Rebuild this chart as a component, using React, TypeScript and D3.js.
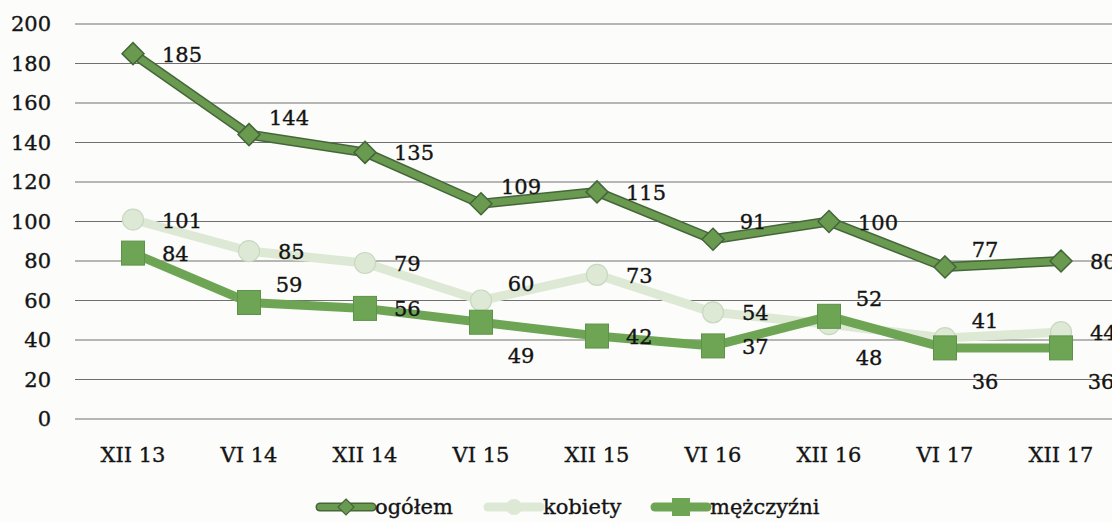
import React from "react";
import * as d3 from "d3";

const categories = ["XII 13", "VI 14", "XII 14", "VI 15", "XII 15", "VI 16", "XII 16", "VI 17", "XII 17"];
const ogolem = [185, 144, 135, 109, 115, 91, 100, 77, 80];
const kobiety = [101, 85, 79, 60, 73, 54, 48, 41, 44];
const mezczyzni = [84, 59, 56, 49, 42, 37, 52, 36, 36];
const yTicks = [0, 20, 40, 60, 80, 100, 120, 140, 160, 180, 200];
// label placement codes: R = right, A = above-right, B = below-right
const ogolemLabelPos = ["R", "A", "R", "A", "R", "A", "R", "A", "R"];
const kobietyLabelPos = ["R", "R", "R", "A", "R", "R", "B", "A", "R"];
const mezczyzniLabelPos = ["R", "A", "R", "B", "R", "R", "A", "B", "B"];
const seriesNames = ["ogółem", "kobiety", "mężczyźni"];

const W = 1112;
const H = 522;
const FONT = "'DejaVu Serif', serif";
const FS = 21;
const TEXT_FILL = "#141414";

const x = d3.scaleBand<string>().domain(categories).range([75, 1119]);
const cx = (c: string) => (x(c) as number) + x.bandwidth() / 2;
const y = d3.scaleLinear().domain([0, 200]).range([419, 24]);

const line = d3
  .line<number>()
  .x((_, i) => cx(categories[i]))
  .y((d) => y(d));

function diamond(px: number, py: number, r: number) {
  return `M${px},${py - r}L${px + r},${py}L${px},${py + r}L${px - r},${py}Z`;
}

function labelProps(code: string, px: number, py: number) {
  if (code === "A") return { x: px + 40, y: py - 17, anchor: "middle" };
  if (code === "B") return { x: px + 40, y: py + 34, anchor: "middle" };
  return { x: px + 29, y: py + 1, anchor: "start" };
}

const C_OG = "#6a9a50";
const C_OG_EDGE = "#44663a";
const C_KOB = "#dde9d5";
const C_KOB_EDGE = "#c9d8c1";
const C_MEZ = "#6ea555";
const C_MEZ_EDGE = "#5e9248";

const textStyle = {
  fontFamily: FONT,
  fontSize: FS,
  fill: TEXT_FILL,
  stroke: TEXT_FILL,
  strokeWidth: 0.35,
};

export default function App() {
  const labels = (vals: number[], pos: string[]) =>
    vals.map((v, i) => {
      const p = labelProps(pos[i], cx(categories[i]), y(v));
      return (
        <text key={i} x={p.x} y={p.y} textAnchor={p.anchor as any} dominantBaseline="central" style={textStyle}>
          {v}
        </text>
      );
    });

  return (
    <svg width={W} height={H} style={{ position: "absolute", left: 0, top: 0, background: "#fcfcfa" }}>
      {/* grid + y ticks */}
      {yTicks.map((t) => (
        <g key={t}>
          <line x1={75} x2={W} y1={y(t)} y2={y(t)} stroke="#707070" strokeWidth={1.1} />
          <text x={51} y={y(t)} textAnchor="end" dominantBaseline="central" style={textStyle}>
            {t}
          </text>
        </g>
      ))}
      {/* x labels */}
      {categories.map((c) => (
        <text key={c} x={cx(c)} y={455} textAnchor="middle" dominantBaseline="central" style={textStyle}>
          {c}
        </text>
      ))}

      {/* ogółem */}
      <path d={line(ogolem) as string} fill="none" stroke={C_OG_EDGE} strokeWidth={10} strokeLinejoin="round" />
      <path d={line(ogolem) as string} fill="none" stroke={C_OG} strokeWidth={7} strokeLinejoin="round" />
      {ogolem.map((v, i) => (
        <path key={i} d={diamond(cx(categories[i]), y(v), 11)} fill={C_OG} stroke={C_OG_EDGE} strokeWidth={1.5} />
      ))}

      {/* kobiety */}
      <path d={line(kobiety) as string} fill="none" stroke={C_KOB} strokeWidth={9} strokeLinejoin="round" />
      {kobiety.map((v, i) => (
        <circle key={i} cx={cx(categories[i])} cy={y(v)} r={10.5} fill={C_KOB} stroke={C_KOB_EDGE} strokeWidth={1.2} />
      ))}

      {/* mężczyźni */}
      <path d={line(mezczyzni) as string} fill="none" stroke={C_MEZ} strokeWidth={9} strokeLinejoin="round" />
      {mezczyzni.map((v, i) => (
        <rect
          key={i}
          x={cx(categories[i]) - 11.5}
          y={y(v) - 12}
          width={23}
          height={24}
          fill={C_MEZ}
          stroke={C_MEZ_EDGE}
          strokeWidth={1}
        />
      ))}

      {labels(ogolem, ogolemLabelPos)}
      {labels(kobiety, kobietyLabelPos)}
      {labels(mezczyzni, mezczyzniLabelPos)}

      {/* legend */}
      {seriesNames.map((name, i) => {
        const x0 = [320, 488, 655][i];
        const ly = 507;
        const mid = x0 + 26;
        return (
          <g key={name}>
            {i === 0 && (
              <>
                <line x1={x0} x2={x0 + 52} y1={ly} y2={ly} stroke={C_OG_EDGE} strokeWidth={9} strokeLinecap="round" />
                <line x1={x0} x2={x0 + 52} y1={ly} y2={ly} stroke={C_OG} strokeWidth={6} strokeLinecap="round" />
                <path d={diamond(mid, ly, 8)} fill={C_OG} stroke={C_OG_EDGE} strokeWidth={1.2} />
              </>
            )}
            {i === 1 && (
              <>
                <line x1={x0} x2={x0 + 52} y1={ly} y2={ly} stroke={C_KOB} strokeWidth={9} strokeLinecap="round" />
                <circle cx={mid} cy={ly} r={8} fill={C_KOB} />
              </>
            )}
            {i === 2 && (
              <>
                <line x1={x0} x2={x0 + 52} y1={ly} y2={ly} stroke={C_MEZ} strokeWidth={9} strokeLinecap="round" />
                <rect x={mid - 9} y={ly - 9} width={18} height={18} fill={C_MEZ} />
              </>
            )}
            <text x={x0 + 55} y={ly} dominantBaseline="central" style={textStyle}>
              {name}
            </text>
          </g>
        );
      })}
    </svg>
  );
}
